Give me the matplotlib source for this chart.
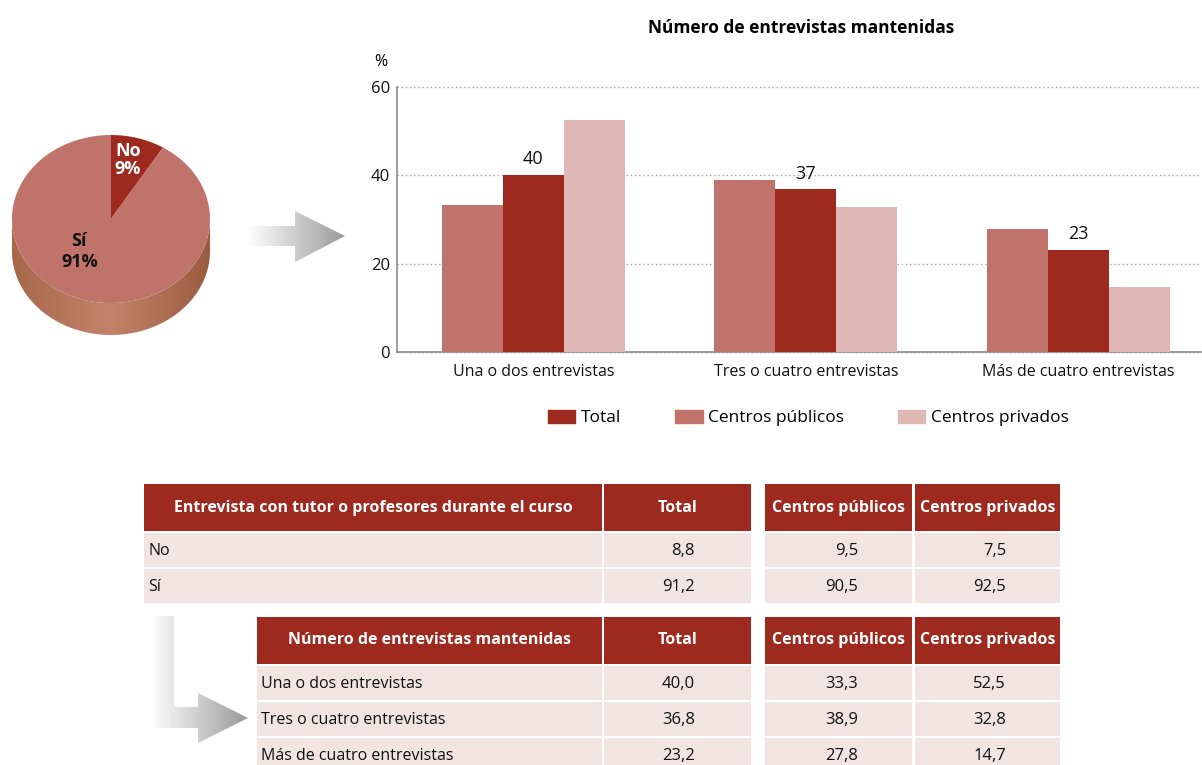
import numpy as np
import matplotlib
matplotlib.use("Agg")
import matplotlib.pyplot as plt
import matplotlib.font_manager as fm
from matplotlib.patches import Rectangle, Polygon, Patch
from matplotlib.colors import LinearSegmentedColormap

# ---------------- data ----------------
categories = ['Una o dos entrevistas', 'Tres o cuatro entrevistas', 'Más de cuatro entrevistas']
total = [40.0, 36.8, 23.2]
publicos = [33.3, 38.9, 27.8]
privados = [52.5, 32.8, 14.7]

t1_rows = ['No', 'Sí']
t1_total = [8.8, 91.2]
t1_pub = [9.5, 90.5]
t1_priv = [7.5, 92.5]

series_names = ['Total', 'Centros públicos', 'Centros privados']
t1_title = 'Entrevista con tutor o profesores durante el curso'
t2_title = 'Número de entrevistas mantenidas'
chart_title = 'Número de entrevistas mantenidas'
yticks = [0, 20, 40, 60]

# ---------------- style ----------------
C_TOTAL = '#9E2A1F'
C_PUB = '#C0736B'
C_PRIV = '#DFB8B5'
C_ROW = '#F2E4E3'


def available(name):
    try:
        fm.findfont(fm.FontProperties(family=name), fallback_to_default=False)
        return True
    except Exception:
        return False


NARROW = 'Liberation Sans Narrow' if available('Liberation Sans Narrow') else 'Open Sans'
REG = 'Open Sans' if available('Open Sans') else 'DejaVu Sans'
plt.rcParams['font.family'] = [REG, 'DejaVu Sans']

W, H = 1202, 765
fig = plt.figure(figsize=(W / 100, H / 100), dpi=100)

# background axes in pixel coordinates
bg = fig.add_axes([0, 0, 1, 1])
bg.set_xlim(0, W)
bg.set_ylim(H, 0)
bg.axis('off')


def fc(x0, y0, x1, y1):
    """pixel box -> figure fraction rect"""
    return [x0 / W, 1 - y1 / H, (x1 - x0) / W, (y1 - y0) / H]


# ---------------- bar chart ----------------
ax = fig.add_axes(fc(397, 87, 1201, 352))
x = np.arange(len(categories))
bw = 0.224
ax.bar(x - bw, publicos, bw, color=C_PUB, label=series_names[1], zorder=3)
bt = ax.bar(x, total, bw, color=C_TOTAL, label=series_names[0], zorder=3)
ax.bar(x + bw, privados, bw, color=C_PRIV, label=series_names[2], zorder=3)
for rect, v in zip(bt, total):
    ax.annotate(f'{v:.0f}', (rect.get_x() + rect.get_width() / 2, rect.get_height()),
                xytext=(0, 5), textcoords='offset points', ha='center', va='bottom',
                fontsize=13, family=NARROW, color='#111111')
ax.set_xlim(-0.5, 2.45)
ax.set_ylim(0, 60)
ax.set_yticks(yticks)
ax.set_xticks(x)
ax.set_xticklabels(categories, family=NARROW, fontsize=11.5)
for lab in ax.get_yticklabels():
    lab.set_family(NARROW)
    lab.set_fontsize(12)
ax.tick_params(axis='both', length=0, colors='#111111')
ax.tick_params(axis='y', pad=5)
ax.tick_params(axis='x', pad=9)
ax.yaxis.grid(True, linestyle=(0, (1, 2)), color='#A0A0A0', linewidth=1)
for gl in ax.get_ygridlines():
    gl.set_clip_on(False)
ax.set_axisbelow(True)
for s in ['top', 'right']:
    ax.spines[s].set_visible(False)
for s in ['left', 'bottom']:
    ax.spines[s].set_color('#8C8C8C')
    ax.spines[s].set_linewidth(1.2)

fig.text(801 / W, 1 - 28 / H, chart_title, ha='center', va='center',
         fontsize=12.5, fontweight='bold', family=REG)
fig.text(381 / W, 1 - 62 / H, '%', ha='center', va='center', fontsize=11.5, family=NARROW)

handles = [Patch(color=C_TOTAL), Patch(color=C_PUB), Patch(color=C_PRIV)]
fig.legend(handles, series_names, ncol=3, frameon=False,
           loc='center', bbox_to_anchor=(808 / W, 1 - 418 / H),
           prop={'family': REG, 'size': 12.5},
           handlelength=1.6, handleheight=0.8, handletextpad=0.3,
           columnspacing=3.1)

# ---------------- pie (pseudo 3D) ----------------
pa = fig.add_axes(fc(0, 118, 222, 350))
pie_vals = [t1_total[0], t1_total[1]]
pa.pie(pie_vals, colors=[C_TOTAL, C_PUB], startangle=90, counterclock=False,
       wedgeprops=dict(linewidth=0))
pa.set_aspect('auto')
depth = 32 / 84
th = np.linspace(np.pi, 2 * np.pi, 200)
side_xy = np.concatenate([np.column_stack([np.cos(th), np.sin(th)]),
                          np.column_stack([np.cos(th[::-1]), np.sin(th[::-1]) - depth])])
side = Polygon(side_xy, closed=True, facecolor='none', edgecolor='none')
pa.add_patch(side)
side_cmap = LinearSegmentedColormap.from_list(
    'side', [(0, '#A6684B'), (0.5, '#C3836A'), (1, '#9A5C41')])
grad = np.linspace(0, 1, 256).reshape(1, -1)
im = pa.imshow(grad, cmap=side_cmap, extent=(-1, 1, -1 - depth, 0), aspect='auto', zorder=0)
im.set_clip_path(side)
pa.set_xlim(-111 / 99, 111 / 99)
pa.set_ylim(-(350 - 219) / 84, (219 - 118) / 84)
pa.axis('off')
pa.text(0.17, 0.70, f'{t1_rows[0]}\n{t1_total[0]:.0f}%', color='white', fontsize=13,
        fontweight='bold', ha='center', va='center', family=REG, linespacing=1.0)
pa.text(-0.32, -0.39, f'{t1_rows[1]}\n{t1_total[1]:.0f}%', color='#111111', fontsize=13,
        fontweight='bold', ha='center', va='center', family=REG, linespacing=1.2)

# ---------------- gradient arrows ----------------
arrow_cmap = LinearSegmentedColormap.from_list('arr', ['#FFFFFF', '#9A9A9A'])


def grad_poly(pts, x0, x1, y0, y1):
    poly = Polygon(pts, closed=True, facecolor='none', edgecolor='none')
    bg.add_patch(poly)
    img = bg.imshow(grad, cmap=arrow_cmap, extent=(x0, x1, y1, y0), aspect='auto', zorder=1)
    img.set_clip_path(poly)


grad_poly([(247, 226), (295, 226), (295, 211), (345, 236), (295, 262), (295, 246), (247, 246)],
          247, 345, 205, 265)
grad_poly([(150, 616), (174, 616), (174, 707), (198, 707), (198, 693), (248, 718),
           (198, 743), (198, 728), (150, 728)],
          150, 248, 610, 745)
bg.set_xlim(0, W)
bg.set_ylim(H, 0)

# ---------------- tables ----------------
def fmt(v):
    return f'{v:.1f}'.replace('.', ',')


def draw_table(title, rows, cols_vals, x_first, y_head, head_h, row_tops, row_h):
    col_edges = [(x_first, 602), (604, 751), (765, 912), (915, 1060)]
    num_right = [695, 858, 1006]
    heads = [title] + series_names
    for (cx0, cx1), txt in zip(col_edges, heads):
        bg.add_patch(Rectangle((cx0, y_head), cx1 - cx0, head_h, facecolor=C_TOTAL,
                               edgecolor='none', zorder=2))
        bg.text((cx0 + cx1) / 2, y_head + head_h / 2, txt, color='white', ha='center',
                va='center', fontsize=11.5, fontweight='bold', family=NARROW, zorder=3)
    for i, rlab in enumerate(rows):
        top = row_tops[i]
        h = min(row_h, H - top)
        for (cx0, cx1) in col_edges:
            bg.add_patch(Rectangle((cx0, top), cx1 - cx0, h, facecolor=C_ROW,
                                   edgecolor='none', zorder=2))
        bg.text(x_first + 4, top + row_h / 2 + 1, rlab, ha='left', va='center',
                fontsize=11.5, family=NARROW, color='#111111', zorder=3)
        for j, vals in enumerate(cols_vals):
            bg.text(num_right[j], top + row_h / 2 + 1, fmt(vals[i]), ha='right', va='center',
                    fontsize=12, family=REG, color='#111111', zorder=3)


draw_table(t1_title, t1_rows, [t1_total, t1_pub, t1_priv], 144, 484, 47, [533, 569], 34)
draw_table(t2_title, categories, [total, publicos, privados], 257, 617, 47, [666, 702, 738], 34)

fig.savefig('out.png', dpi=100)
